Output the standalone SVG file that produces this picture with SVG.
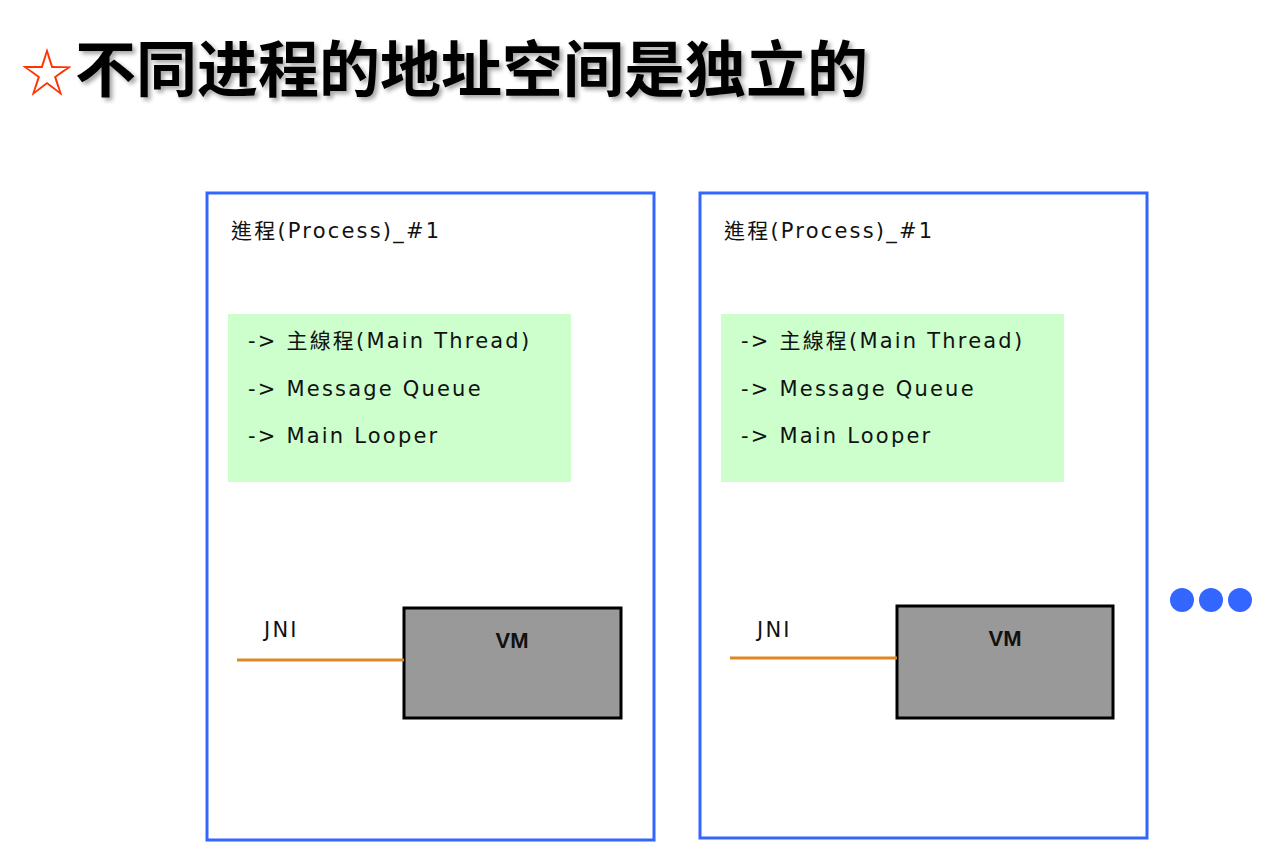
<svg xmlns="http://www.w3.org/2000/svg" width="1286" height="864" viewBox="0 0 1286 864">
<style>
.title{font-family:"Noto Sans CJK SC","Noto Sans CJK TC",sans-serif;font-weight:bold;font-size:61px;fill:#000}
.proc{fill:#fff;stroke:#3366ff;stroke-width:3}
.green{fill:#ccffcc}
.lbl{font-family:"DejaVu Sans","Noto Sans CJK TC",sans-serif;font-size:21px;fill:#111;letter-spacing:2.2px}
.vm{fill:#999;stroke:#000;stroke-width:3}
.vmt{font-family:"Liberation Sans",sans-serif;font-weight:bold;font-size:22px;fill:#111;text-anchor:middle}
.jni{stroke:#dd8822;stroke-width:3}
.dot{fill:#3366ff}
</style>
<defs>
<filter id="sh" x="-5%" y="-20%" width="110%" height="140%">
<feDropShadow dx="3" dy="3" stdDeviation="2" flood-color="#000" flood-opacity="0.35"/>
</filter>
</defs>
<rect width="1286" height="864" fill="#fff"/>
<g id="title">
<text x="21" y="92" font-family="'Noto Sans CJK SC',sans-serif" font-size="52" fill="#ff3300">☆</text>
<text class="title" x="75" y="92" filter="url(#sh)">不同进程的地址空间是独立的</text>
</g>
<g id="process1">
<rect class="proc" x="207" y="193" width="447" height="647"/>
<text class="lbl" x="231" y="238">進程(Process)_#1</text>
</g>
<g id="threads1">
<rect class="green" x="228" y="314" width="343" height="168"/>
<text class="lbl" x="248" y="348">-&gt; 主線程(Main Thread)</text>
<text class="lbl" x="248" y="396">-&gt; Message Queue</text>
<text class="lbl" x="248" y="443">-&gt; Main Looper</text>
</g>
<g id="vm1">
<rect class="vm" x="404" y="608" width="217" height="110"/>
<text class="vmt" x="512" y="648">VM</text>
</g>
<g id="process2">
<rect class="proc" x="700" y="193" width="447" height="645"/>
<text class="lbl" x="724" y="238">進程(Process)_#1</text>
</g>
<g id="threads2">
<rect class="green" x="721" y="314" width="343" height="168"/>
<text class="lbl" x="741" y="348">-&gt; 主線程(Main Thread)</text>
<text class="lbl" x="741" y="396">-&gt; Message Queue</text>
<text class="lbl" x="741" y="443">-&gt; Main Looper</text>
</g>
<g id="vm2">
<rect class="vm" x="897" y="606" width="216" height="112"/>
<text class="vmt" x="1005" y="646">VM</text>
</g>
<g id="connectors">
<line class="jni" x1="237" y1="660" x2="404" y2="660"/>
<text class="lbl" x="264" y="637">JNI</text>
<line class="jni" x1="730" y1="658" x2="897" y2="658"/>
<text class="lbl" x="757" y="637">JNI</text>
</g>
<g id="more">
<circle class="dot" cx="1182" cy="600" r="12"/>
<circle class="dot" cx="1211" cy="600" r="12"/>
<circle class="dot" cx="1240" cy="600" r="12"/>
</g>
</svg>
